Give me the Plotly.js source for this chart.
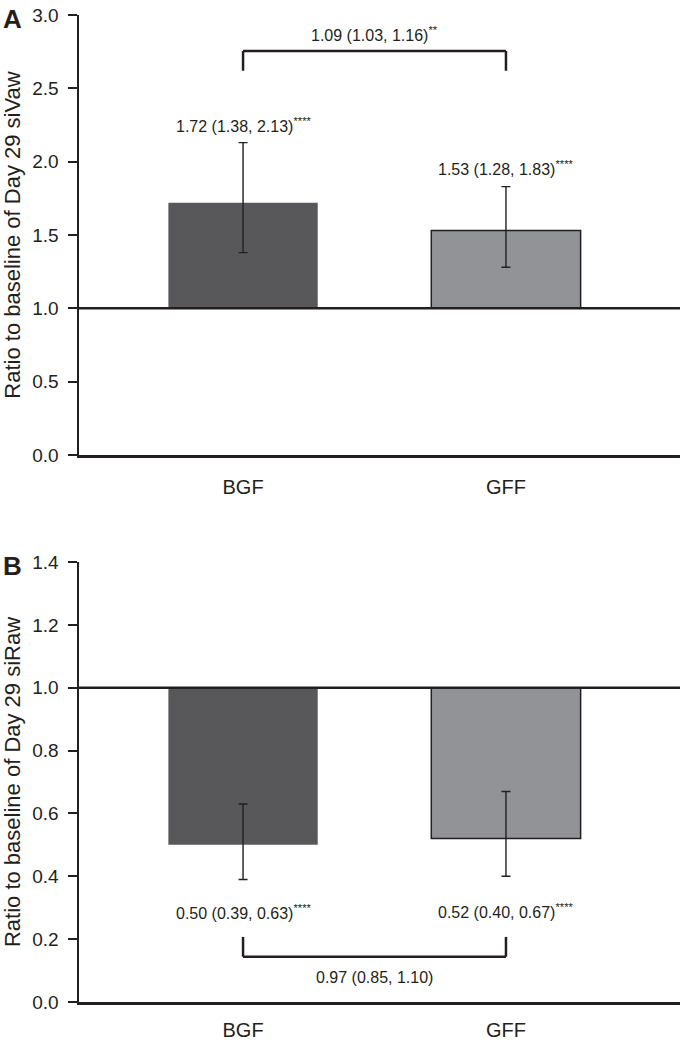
<!DOCTYPE html>
<html>
<head>
<meta charset="utf-8">
<script src="https://cdn.plot.ly/plotly-3.0.1.min.js"></script>
<style>html,body{margin:0;padding:0;background:#fff;}#chart{width:685px;height:1042px;}</style>
</head>
<body>
<div id="chart"></div>
<script>
// ---- Data ----
const categories = ['BGF', 'GFF'];
// Panel A: Day 29 siVaw ratio to baseline (estimate, lower CI, upper CI)
const ratioA = [1.72, 1.53];
const lowerA = [1.38, 1.28];
const upperA = [2.13, 1.83];
const starsA = ['****', '****'];
// Panel B: Day 29 siRaw ratio to baseline
const ratioB = [0.50, 0.52];
const lowerB = [0.39, 0.40];
const upperB = [0.63, 0.67];
const starsB = ['****', '****'];
// Between-group comparisons (BGF vs GFF)
const compA = [1.09, 1.03, 1.16];
const compStarsA = '**';
const compB = [0.97, 0.85, 1.10];
const compStarsB = '';
const baseline = 1;
const yTicksA = [0, 0.5, 1.0, 1.5, 2.0, 2.5, 3.0];
const yTicksB = [0, 0.2, 0.4, 0.6, 0.8, 1.0, 1.2, 1.4];
const titleA = 'Ratio to baseline of Day 29 siVaw';
const titleB = 'Ratio to baseline of Day 29 siRaw';
const panelLabels = ['A', 'B'];

// ---- Styles ----
const FONT = '"Liberation Sans", Arial, Helvetica, sans-serif';
const INK = '#231f20';
const barColors = ['#58585a', '#929396'];
const barLineColors = ['#58585a', INK];
const barLineWidths = [0, 1.5];

const fmt = v => v.toFixed(2);
const label = (e, lo, hi, s) => fmt(e) + ' (' + fmt(lo) + ', ' + fmt(hi) + ')' + (s ? '<sup>' + s + '</sup>' : '');

function barTrace(vals, xa, ya) {
  return {
    type: 'bar', x: categories, y: vals.map(v => v - baseline), base: vals.map(() => baseline),
    width: 0.568, xaxis: xa, yaxis: ya, hoverinfo: 'skip',
    marker: {color: barColors, line: {color: barLineColors, width: barLineWidths}}
  };
}
function errTrace(vals, lo, hi, xa, ya) {
  return {
    type: 'scatter', mode: 'markers', x: categories, y: vals, xaxis: xa, yaxis: ya,
    marker: {opacity: 0, size: 1}, hoverinfo: 'skip',
    error_y: {type: 'data', symmetric: false,
      array: vals.map((v, i) => hi[i] - v), arrayminus: vals.map((v, i) => v - lo[i]),
      color: INK, thickness: 1.4, width: 4.5}
  };
}

const data = [
  barTrace(ratioA, 'x', 'y'), errTrace(ratioA, lowerA, upperA, 'x', 'y'),
  barTrace(ratioB, 'x2', 'y2'), errTrace(ratioB, lowerB, upperB, 'x2', 'y2')
];

const i0 = 0, i1 = categories.length - 1, mid = (i0 + i1) / 2;
const lineStyle = {color: INK, width: 2.5};
const shapes = [
  // baseline lines at 1.0
  {type: 'line', xref: 'x domain', yref: 'y', x0: 0, x1: 1, y0: baseline, y1: baseline, line: lineStyle, layer: 'above'},
  {type: 'line', xref: 'x2 domain', yref: 'y2', x0: 0, x1: 1, y0: baseline, y1: baseline, line: lineStyle, layer: 'above'},
  // bracket A
  {type: 'line', xref: 'x', yref: 'y', x0: i0, x1: i1, y0: 2.755, y1: 2.755, line: lineStyle},
  {type: 'line', xref: 'x', yref: 'y', x0: i0, x1: i0, y0: 2.755, y1: 2.62, line: lineStyle},
  {type: 'line', xref: 'x', yref: 'y', x0: i1, x1: i1, y0: 2.755, y1: 2.62, line: lineStyle},
  // bracket B
  {type: 'line', xref: 'x2', yref: 'y2', x0: i0, x1: i1, y0: 0.144, y1: 0.144, line: lineStyle},
  {type: 'line', xref: 'x2', yref: 'y2', x0: i0, x1: i0, y0: 0.144, y1: 0.207, line: lineStyle},
  {type: 'line', xref: 'x2', yref: 'y2', x0: i1, x1: i1, y0: 0.144, y1: 0.207, line: lineStyle}
];

const annFont = {family: FONT, size: 16, color: INK};
const annotations = [
  {xref: 'x', yref: 'y', x: mid, y: 2.87, text: label(compA[0], compA[1], compA[2], compStarsA), showarrow: false, font: annFont},
  {xref: 'x', yref: 'y', x: i0, y: 2.25, text: label(ratioA[0], lowerA[0], upperA[0], starsA[0]), showarrow: false, font: annFont},
  {xref: 'x', yref: 'y', x: i1, y: 1.955, text: label(ratioA[1], lowerA[1], upperA[1], starsA[1]), showarrow: false, font: annFont},
  {xref: 'x2', yref: 'y2', x: i0, y: 0.285, text: label(ratioB[0], lowerB[0], upperB[0], starsB[0]), showarrow: false, font: annFont},
  {xref: 'x2', yref: 'y2', x: i1, y: 0.29, text: label(ratioB[1], lowerB[1], upperB[1], starsB[1]), showarrow: false, font: annFont},
  {xref: 'x2', yref: 'y2', x: mid, y: 0.077, text: label(compB[0], compB[1], compB[2], compStarsB), showarrow: false, font: annFont},
  {xref: 'paper', yref: 'paper', x: -0.111, y: 0.996, text: '<b>' + panelLabels[0] + '</b>', showarrow: false, xanchor: 'center', yanchor: 'middle', font: {family: FONT, size: 26, color: INK}},
  {xref: 'paper', yref: 'paper', x: -0.111, y: 0.4417, text: '<b>' + panelLabels[1] + '</b>', showarrow: false, xanchor: 'center', yanchor: 'middle', font: {family: FONT, size: 26, color: INK}}
];

const xAxisBase = {
  type: 'category', range: [-0.624, 1.662], showline: true, linewidth: 2.5, linecolor: INK,
  showgrid: false, zeroline: false, ticks: 'outside', ticklen: 12, tickcolor: 'rgba(0,0,0,0)',
  tickfont: {family: FONT, size: 20, color: INK}, fixedrange: true
};
const yAxisBase = {
  showline: true, linewidth: 2.5, linecolor: INK, showgrid: false, zeroline: false,
  ticks: 'outside', ticklen: 9, tickwidth: 2, tickcolor: INK, tickformat: '.1f',
  ticklabelstandoff: 5, tickfont: {family: FONT, size: 19, color: INK}, automargin: false, fixedrange: true
};

const layout = {
  width: 685, height: 1042, showlegend: false,
  paper_bgcolor: '#fff', plot_bgcolor: '#fff',
  margin: {l: 79, r: 5, t: 15, b: 40},
  font: {family: FONT, color: INK},
  xaxis: Object.assign({}, xAxisBase, {anchor: 'y', domain: [0, 1]}),
  yaxis: Object.assign({}, yAxisBase, {anchor: 'x', domain: [0.5542, 1], range: [0, 3], tickvals: yTicksA,
    title: {text: titleA, font: {family: FONT, size: 22, color: INK}, standoff: 8}}),
  xaxis2: Object.assign({}, xAxisBase, {anchor: 'y2', domain: [0, 1], ticklen: 8}),
  yaxis2: Object.assign({}, yAxisBase, {anchor: 'x2', domain: [0, 0.4458], range: [0, 1.4], tickvals: yTicksB,
    title: {text: titleB, font: {family: FONT, size: 22, color: INK}, standoff: 8}}),
  shapes: shapes, annotations: annotations, bargap: 0
};

Plotly.newPlot('chart', data, layout, {displayModeBar: false, staticPlot: true});
</script>
</body>
</html>
